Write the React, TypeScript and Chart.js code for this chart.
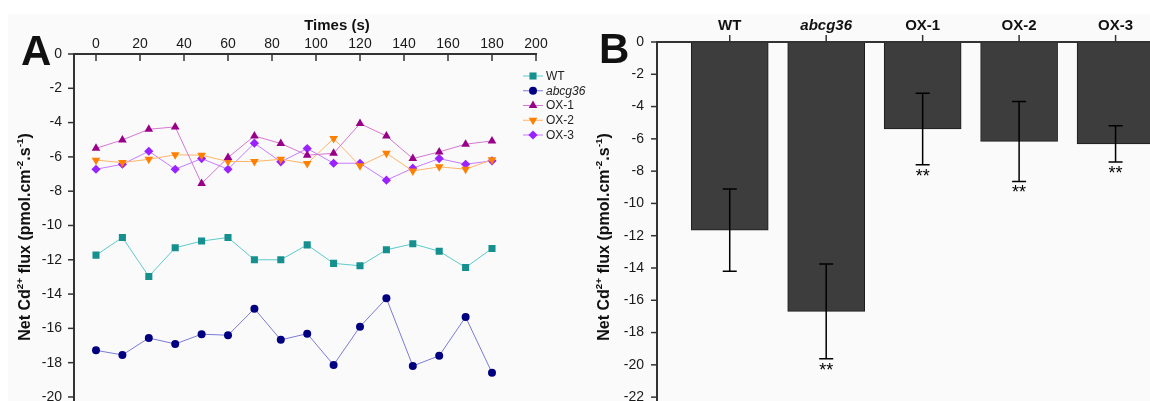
import React, { useEffect, useRef } from 'react';
import { Chart, registerables } from 'chart.js';

Chart.register(...registerables);

const FONT = 'Arial, "Liberation Sans", sans-serif';

// ---------- Panel A data ----------
const timeS = [0, 12, 24, 36, 48, 60, 72, 84, 96, 108, 120, 132, 144, 156, 168, 180];
const wtFlux = [-11.73, -10.7, -12.97, -11.3, -10.91, -10.7, -12.0, -12.0, -11.13, -12.21, -12.35, -11.42, -11.07, -11.5, -12.45, -11.34];
const abcg36Flux = [-17.28, -17.55, -16.56, -16.91, -16.34, -16.4, -14.85, -16.67, -16.31, -18.13, -15.9, -14.25, -18.19, -17.6, -15.34, -18.59];
const ox1Flux = [-5.5, -5.01, -4.39, -4.25, -7.55, -6.04, -4.78, -5.22, -5.9, -5.79, -4.06, -4.78, -6.1, -5.71, -5.26, -5.07];
const ox2Flux = [-6.19, -6.33, -6.14, -5.88, -5.9, -6.27, -6.27, -6.14, -6.39, -4.93, -6.52, -5.79, -6.82, -6.58, -6.72, -6.17];
const ox3Flux = [-6.72, -6.43, -5.67, -6.72, -6.1, -6.72, -5.2, -6.29, -5.51, -6.37, -6.37, -7.36, -6.66, -6.1, -6.43, -6.23];
const timeTicks = [0, 20, 40, 60, 80, 100, 120, 140, 160, 180, 200];
const fluxTicksA = [0, -2, -4, -6, -8, -10, -12, -14, -16, -18, -20];

// ---------- Panel B data ----------
const genotypes = ['WT', 'abcg36', 'OX-1', 'OX-2', 'OX-3'];
const meanFlux = [-11.65, -16.69, -5.39, -6.16, -6.31];
const fluxErr = [2.55, 2.93, 2.22, 2.48, 1.12];
const significance = ['', '**', '**', '**', '**'];
const fluxTicksB = [0, -2, -4, -6, -8, -10, -12, -14, -16, -18, -20, -22];

type SeriesStyle = { label: string; data: number[]; marker: string; line: string; shape: string; r: number; rot: number; italic?: boolean };
const seriesA: SeriesStyle[] = [
  { label: 'WT', data: wtFlux, marker: '#15908e', line: '#5ccaca', shape: 'rect', r: 5, rot: 0 },
  { label: 'abcg36', data: abcg36Flux, marker: '#000080', line: '#7b7bd6', shape: 'circle', r: 4, rot: 0, italic: true },
  { label: 'OX-1', data: ox1Flux, marker: '#990088', line: '#d477d0', shape: 'triangle', r: 5, rot: 0 },
  { label: 'OX-2', data: ox2Flux, marker: '#ff8000', line: '#ffb466', shape: 'triangle', r: 5, rot: 180 },
  { label: 'OX-3', data: ox3Flux, marker: '#9922ff', line: '#c77bff', shape: 'rectRot', r: 4.6, rot: 0 },
];

function drawMarker(ctx: CanvasRenderingContext2D, shape: string, x: number, y: number, r: number, rot: number, color: string) {
  ctx.save();
  ctx.translate(x, y);
  ctx.rotate((rot * Math.PI) / 180);
  ctx.fillStyle = color;
  ctx.beginPath();
  if (shape === 'rect') {
    const s = r * Math.SQRT1_2;
    ctx.rect(-s, -s, 2 * s, 2 * s);
  } else if (shape === 'circle') {
    ctx.arc(0, 0, r, 0, Math.PI * 2);
  } else if (shape === 'triangle') {
    ctx.moveTo(0, -r);
    ctx.lineTo(r * 0.866, r * 0.5);
    ctx.lineTo(-r * 0.866, r * 0.5);
    ctx.closePath();
  } else {
    ctx.moveTo(0, -r);
    ctx.lineTo(r, 0);
    ctx.lineTo(0, r);
    ctx.lineTo(-r, 0);
    ctx.closePath();
  }
  ctx.fill();
  ctx.restore();
}

function drawRotatedRich(ctx: CanvasRenderingContext2D, bx: number, cy: number, parts: [string, string][], size: number) {
  ctx.save();
  ctx.translate(bx, cy);
  ctx.rotate(-Math.PI / 2);
  const sup = size * 0.62;
  const widths = parts.map(([t, k]) => {
    ctx.font = `bold ${k === 's' ? sup : size}px ${FONT}`;
    return ctx.measureText(t).width;
  });
  const total = widths.reduce((a, b) => a + b, 0);
  let x = -total / 2;
  ctx.fillStyle = '#111';
  ctx.textBaseline = 'alphabetic';
  ctx.textAlign = 'left';
  parts.forEach(([t, k], i) => {
    ctx.font = `bold ${k === 's' ? sup : size}px ${FONT}`;
    ctx.fillText(t, x, k === 's' ? -size * 0.42 : 0);
    x += widths[i];
  });
  ctx.restore();
}

const yTitleParts: [string, string][] = [
  ['Net Cd', 'n'], ['2+', 's'], [' flux (pmol.cm', 'n'], ['-2', 's'], ['.s', 'n'], ['-1', 's'], [')', 'n'],
];

export default function App() {
  const refA = useRef<HTMLCanvasElement>(null);
  const refB = useRef<HTMLCanvasElement>(null);

  useEffect(() => {
    const tickFont = { family: FONT, size: 14 };

    const axesA = {
      id: 'axesA',
      afterDraw(chart: any) {
        const ctx = chart.ctx as CanvasRenderingContext2D;
        const { left, top, bottom } = chart.chartArea;
        const xs = chart.scales.x;
        const ys = chart.scales.y;
        ctx.save();
        ctx.strokeStyle = '#333';
        ctx.lineWidth = 2;
        ctx.beginPath();
        ctx.moveTo(left, top - 1);
        ctx.lineTo(left, bottom);
        ctx.stroke();
        ctx.lineWidth = 1.5;
        fluxTicksA.forEach((v) => {
          const y = ys.getPixelForValue(v);
          ctx.beginPath();
          ctx.moveTo(left - 6, y);
          ctx.lineTo(left, y);
          ctx.stroke();
        });
        const xr = xs.getPixelForValue(200);
        ctx.lineWidth = 1.8;
        ctx.beginPath();
        ctx.moveTo(left, top);
        ctx.lineTo(xr + 1, top);
        ctx.stroke();
        ctx.lineWidth = 1.5;
        timeTicks.forEach((v) => {
          const x = xs.getPixelForValue(v);
          ctx.beginPath();
          ctx.moveTo(x, top);
          ctx.lineTo(x, top + 7);
          ctx.stroke();
        });
        ctx.fillStyle = '#111';
        ctx.font = `bold 15px ${FONT}`;
        ctx.textAlign = 'center';
        ctx.textBaseline = 'alphabetic';
        ctx.fillText('Times (s)', 337, 30);
        ctx.font = `bold 42px ${FONT}`;
        ctx.textAlign = 'left';
        ctx.fillText('A', 21, 65);
        seriesA.forEach((s, i) => {
          const y = 76 + i * 14.75;
          ctx.strokeStyle = s.line;
          ctx.lineWidth = 1;
          ctx.beginPath();
          ctx.moveTo(523, y);
          ctx.lineTo(543, y);
          ctx.stroke();
          drawMarker(ctx, s.shape, 533, y, s.r, s.rot, s.marker);
          ctx.fillStyle = '#222';
          ctx.font = `${s.italic ? 'italic ' : ''}12px ${FONT}`;
          ctx.textBaseline = 'middle';
          ctx.fillText(s.label, 546, y + 0.5);
        });
        drawRotatedRich(ctx, 30, 237, yTitleParts, 16);
        ctx.restore();
      },
    };

    const chartA = new Chart(refA.current!, {
      type: 'line',
      data: {
        datasets: seriesA.map((s) => ({
          label: s.label,
          data: timeS.map((t, i) => ({ x: t, y: s.data[i] })),
          borderColor: s.line,
          borderWidth: 1,
          backgroundColor: s.marker,
          pointBackgroundColor: s.marker,
          pointBorderColor: s.marker,
          pointBorderWidth: 0,
          pointStyle: s.shape as any,
          pointRadius: s.r,
          pointRotation: s.rot,
          tension: 0,
          fill: false,
        })),
      },
      options: {
        responsive: false,
        animation: false,
        events: [],
        layout: { padding: { left: 0, top: 0, right: 64, bottom: 20 } },
        plugins: { legend: { display: false }, tooltip: { enabled: false } },
        scales: {
          x: {
            type: 'linear',
            position: 'top',
            min: -10,
            max: 200,
            afterBuildTicks: (s: any) => { s.ticks = timeTicks.map((v) => ({ value: v })); },
            afterFit: (s: any) => { s.height = 54; },
            grid: { display: false, drawTicks: false },
            border: { display: false },
            ticks: { font: tickFont, color: '#1a1a1a', padding: 1, maxRotation: 0, autoSkip: false, callback: (v: any) => String(v) },
          },
          y: {
            type: 'linear',
            min: -21.32,
            max: 0,
            afterBuildTicks: (s: any) => { s.ticks = fluxTicksA.map((v) => ({ value: v })); },
            afterFit: (s: any) => { s.width = 74; },
            grid: { display: false, drawTicks: false },
            border: { display: false },
            ticks: { font: tickFont, color: '#1a1a1a', padding: 12, autoSkip: false, callback: (v: any) => String(v) },
          },
        },
      },
      plugins: [axesA],
    } as any);

    const axesB = {
      id: 'axesB',
      afterDraw(chart: any) {
        const ctx = chart.ctx as CanvasRenderingContext2D;
        const { left, top, bottom, right } = chart.chartArea;
        const xs = chart.scales.x;
        const ys = chart.scales.y;
        ctx.save();
        ctx.strokeStyle = '#000';
        ctx.fillStyle = '#000';
        meanFlux.forEach((m, i) => {
          const x = xs.getPixelForValue(i + 1);
          const yHi = ys.getPixelForValue(m + fluxErr[i]);
          const yLo = ys.getPixelForValue(m - fluxErr[i]);
          ctx.lineWidth = 1.5;
          ctx.beginPath();
          ctx.moveTo(x, yHi);
          ctx.lineTo(x, yLo);
          ctx.moveTo(x - 7, yHi);
          ctx.lineTo(x + 7, yHi);
          ctx.moveTo(x - 7, yLo);
          ctx.lineTo(x + 7, yLo);
          ctx.stroke();
          if (significance[i]) {
            ctx.font = `18px ${FONT}`;
            ctx.textAlign = 'center';
            ctx.textBaseline = 'top';
            ctx.fillText(significance[i], x, yLo + 3);
          }
        });
        ctx.strokeStyle = '#333';
        ctx.lineWidth = 2;
        ctx.beginPath();
        ctx.moveTo(left, top - 1);
        ctx.lineTo(left, bottom);
        ctx.stroke();
        ctx.lineWidth = 1.5;
        fluxTicksB.forEach((v) => {
          const y = ys.getPixelForValue(v);
          ctx.beginPath();
          ctx.moveTo(left - 6, y);
          ctx.lineTo(left, y);
          ctx.stroke();
        });
        ctx.lineWidth = 1.8;
        ctx.beginPath();
        ctx.moveTo(left, top);
        ctx.lineTo(right, top);
        ctx.stroke();
        ctx.lineWidth = 1.5;
        genotypes.forEach((_, i) => {
          const x = xs.getPixelForValue(i + 1);
          ctx.beginPath();
          ctx.moveTo(x, top);
          ctx.lineTo(x, top - 7);
          ctx.stroke();
        });
        ctx.fillStyle = '#111';
        ctx.font = `bold 42px ${FONT}`;
        ctx.textAlign = 'left';
        ctx.textBaseline = 'alphabetic';
        ctx.fillText('B', 19, 63);
        drawRotatedRich(ctx, 29, 237, yTitleParts, 16);
        ctx.restore();
      },
    };

    const chartB = new Chart(refB.current!, {
      type: 'bar',
      data: {
        datasets: [
          {
            label: 'Net flux',
            data: meanFlux.map((m, i) => ({ x: i + 1, y: m })),
            backgroundColor: '#3d3d3d',
            borderColor: '#1c1c1c',
            borderWidth: 1,
            borderSkipped: false,
            barThickness: 77,
          },
        ],
      },
      options: {
        responsive: false,
        animation: false,
        events: [],
        layout: { padding: { left: 0, top: 0, right: 50, bottom: 20 } },
        plugins: { legend: { display: false }, tooltip: { enabled: false } },
        scales: {
          x: {
            type: 'linear',
            position: 'top',
            offset: false,
            min: 0.246,
            max: 5.357,
            afterBuildTicks: (s: any) => { s.ticks = genotypes.map((_, i) => ({ value: i + 1 })); },
            afterFit: (s: any) => { s.height = 42; },
            grid: { display: false, drawTicks: false, offset: false },
            border: { display: false },
            ticks: {
              color: '#111',
              padding: 7,
              maxRotation: 0,
              autoSkip: false,
              font: (c: any) => ({ family: FONT, size: 15, weight: 'bold', style: c.tick && c.tick.value === 2 ? 'italic' : 'normal' }),
              callback: (v: any) => genotypes[Math.round(v) - 1] ?? '',
            },
          },
          y: {
            type: 'linear',
            min: -23.33,
            max: 0,
            afterBuildTicks: (s: any) => { s.ticks = fluxTicksB.map((v) => ({ value: v })); },
            afterFit: (s: any) => { s.width = 77; },
            grid: { display: false, drawTicks: false },
            border: { display: false },
            ticks: { font: tickFont, color: '#1a1a1a', padding: 13, autoSkip: false, callback: (v: any) => String(v) },
          },
        },
      },
      plugins: [axesB],
    } as any);

    return () => {
      chartA.destroy();
      chartB.destroy();
    };
  }, []);

  return (
    <div style={{ position: 'fixed', left: 0, top: 0, width: 1150, height: 401, overflow: 'hidden', background: '#ffffff' }}>
      <div style={{ position: 'absolute', left: 8, top: 14, width: 1142, height: 387, background: '#fafafa' }} />
      <canvas ref={refA} width={600} height={440} style={{ position: 'absolute', left: 0, top: 0, width: 600, height: 440 }} />
      <canvas ref={refB} width={620} height={440} style={{ position: 'absolute', left: 580, top: 0, width: 620, height: 440 }} />
    </div>
  );
}
